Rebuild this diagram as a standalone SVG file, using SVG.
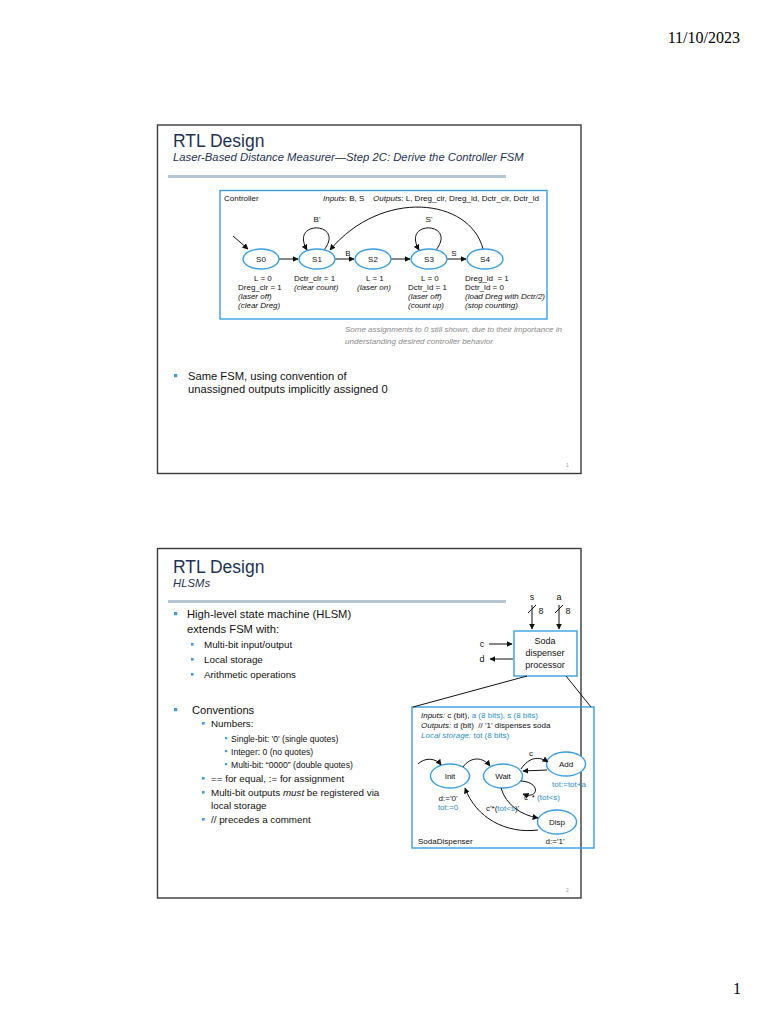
<svg xmlns="http://www.w3.org/2000/svg" width="768" height="1024" viewBox="0 0 768 1024">
<style>
text{font-family:"Liberation Sans",Arial,sans-serif;fill:#111}
.serif{font-family:"Liberation Serif","Times New Roman",serif;font-size:16px;fill:#000}
.slide{fill:#fff;stroke:#3a3a3a;stroke-width:1.4}
.title{font-size:17.5px;fill:#1f3352}
.sub{font-size:11.3px;font-style:italic;fill:#1f3352}
.bar{stroke:#b6c5d3;stroke-width:3}
.frame{fill:none;stroke:#3b9ee0;stroke-width:1.4}
.st{fill:#fff;stroke:#3b9ee0;stroke-width:1.4}
.sl{font-size:8px;text-anchor:middle}
.lab{font-size:8px}
.it{font-style:italic}
.blue{fill:#2f8fc4}
.edge{fill:none;stroke:#111;stroke-width:1}
.bul{fill:#3e9bd6}
.b1{font-size:11.2px}
.b2{font-size:9.8px}
.b3{font-size:8.6px}
.note{font-size:7.6px;font-style:italic;fill:#8a8a8a}
.pn{font-size:5px;fill:#999}
.h{font-size:8px}
.sp{font-size:9px;text-anchor:middle}
</style>
<defs>
<marker id="ah" viewBox="0 0 10 10" refX="9" refY="5" markerWidth="6" markerHeight="6" markerUnits="userSpaceOnUse" orient="auto"><path d="M0,0 L10,5 L0,10 z" fill="#111"/></marker>
</defs>
<rect width="768" height="1024" fill="#fff"/>
<text class="serif" x="740" y="43" text-anchor="end">11/10/2023</text>
<text class="serif" x="733" y="994">1</text>

<!-- Slide 1 -->
<g id="slide1">
<rect class="slide" x="157.5" y="125" width="423.5" height="348.5"/>
<text class="title" x="173" y="147">RTL Design</text>
<text class="sub" x="173" y="161">Laser-Based Distance Measurer—Step 2C: Derive the Controller FSM</text>
<line class="bar" x1="168" y1="176.5" x2="506" y2="176.5"/>
<rect class="frame" x="220" y="190.5" width="327" height="128.5"/>
<text class="lab" x="224" y="201">Controller</text>
<text class="lab" x="323" y="201"><tspan class="it">Inputs</tspan>: B, S</text>
<text class="lab" x="373" y="201" textLength="166" lengthAdjust="spacingAndGlyphs"><tspan class="it">Outputs</tspan>: L, Dreg_clr, Dreg_ld, Dctr_clr, Dctr_ld</text>
<text class="note" x="345" y="332" textLength="217" lengthAdjust="spacingAndGlyphs">Some assignments to 0 still shown, due to their importance in</text>
<text class="note" x="345" y="344" textLength="148" lengthAdjust="spacingAndGlyphs">understanding desired controller behavior</text>
<rect class="bul" x="174" y="374" width="3.2" height="3.2"/>
<text class="b1" x="188" y="380">Same FSM, using convention of</text>
<text class="b1" x="188" y="393">unassigned outputs implicitly assigned 0</text>
<text class="pn" x="566" y="467">1</text>
</g>

<g id="connectors1">
<path class="edge" d="M233,236 L248,249" marker-end="url(#ah)"/>
<path class="edge" d="M279,259 L298,259" marker-end="url(#ah)"/>
<path class="edge" d="M335,259 L354,259" marker-end="url(#ah)"/>
<path class="edge" d="M391,259 L410,259" marker-end="url(#ah)"/>
<path class="edge" d="M447,259 L466,259" marker-end="url(#ah)"/>
<path class="edge" d="M324,250 C346,222 289,219 307,250" marker-end="url(#ah)"/>
<path class="edge" d="M436,250 C458,222 401,219 419,250" marker-end="url(#ah)"/>
<path class="edge" d="M483,249 C470,198 382,188 330,250" marker-end="url(#ah)"/>
<text class="sl" x="317" y="222">B'</text>
<text class="sl" x="348" y="256">B</text>
<text class="sl" x="429" y="222">S'</text>
<text class="sl" x="454" y="256">S</text>
</g>

<g id="S0"><ellipse class="st" cx="261" cy="259" rx="18" ry="10"/><text class="sl" x="261" y="262">S0</text>
<text class="lab" x="254" y="281">L = 0</text><text class="lab" x="238" y="290">Dreg_clr = 1</text><text class="lab it" x="238" y="299">(laser off)</text><text class="lab it" x="238" y="308">(clear Dreg)</text></g>
<g id="S1"><ellipse class="st" cx="317" cy="259" rx="18" ry="10"/><text class="sl" x="317" y="262">S1</text>
<text class="lab" x="294" y="281">Dctr_clr = 1</text><text class="lab it" x="294" y="290">(clear count)</text></g>
<g id="S2"><ellipse class="st" cx="373" cy="259" rx="18" ry="10"/><text class="sl" x="373" y="262">S2</text>
<text class="lab" x="366" y="281">L = 1</text><text class="lab it" x="357" y="290">(laser on)</text></g>
<g id="S3"><ellipse class="st" cx="429" cy="259" rx="18" ry="10"/><text class="sl" x="429" y="262">S3</text>
<text class="lab" x="421" y="281">L = 0</text><text class="lab" x="408" y="290">Dctr_ld = 1</text><text class="lab it" x="408" y="299">(laser off)</text><text class="lab it" x="408" y="308">(count up)</text></g>
<g id="S4"><ellipse class="st" cx="485" cy="259" rx="18" ry="10"/><text class="sl" x="485" y="262">S4</text>
<text class="lab" x="465" y="281" xml:space="preserve">Dreg_ld  = 1</text><text class="lab" x="465" y="290">Dctr_ld = 0</text><text class="lab it" x="465" y="299">(load Dreg with Dctr/2)</text><text class="lab it" x="465" y="308">(stop counting)</text></g>

<!-- Slide 2 -->
<g id="slide2">
<rect class="slide" x="157.5" y="548.5" width="423.5" height="349.5"/>
<text class="title" x="173" y="573">RTL Design</text>
<text class="sub" x="173" y="587">HLSMs</text>
<line class="bar" x1="168" y1="601.5" x2="506" y2="601.5"/>
<rect class="bul" x="174" y="612" width="3.2" height="3.2"/>
<text class="b1" x="187" y="618">High-level state machine (HLSM)</text>
<text class="b1" x="187" y="633">extends FSM with:</text>
<rect class="bul" x="191" y="643" width="2.6" height="2.6"/><text class="b2" x="204" y="648">Multi-bit input/output</text>
<rect class="bul" x="191" y="658" width="2.6" height="2.6"/><text class="b2" x="204" y="663">Local storage</text>
<rect class="bul" x="191" y="673" width="2.6" height="2.6"/><text class="b2" x="204" y="678">Arithmetic operations</text>
<rect class="bul" x="174" y="708" width="3.2" height="3.2"/><text class="b1" x="192" y="714">Conventions</text>
<rect class="bul" x="202" y="722" width="2.6" height="2.6"/><text class="b2" x="211" y="727">Numbers:</text>
<rect class="bul" x="225" y="737" width="2.2" height="2.2"/><text class="b3" x="231" y="742">Single-bit: '0' (single quotes)</text>
<rect class="bul" x="225" y="750" width="2.2" height="2.2"/><text class="b3" x="231" y="755">Integer: 0 (no quotes)</text>
<rect class="bul" x="225" y="763" width="2.2" height="2.2"/><text class="b3" x="231" y="768">Multi-bit: “0000” (double quotes)</text>
<rect class="bul" x="202" y="777" width="2.6" height="2.6"/><text class="b2" x="211" y="782">== for equal, := for assignment</text>
<rect class="bul" x="202" y="791" width="2.6" height="2.6"/><text class="b2" x="211" y="796">Multi-bit outputs <tspan class="it">must</tspan> be registered via</text>
<text class="b2" x="211" y="809">local storage</text>
<rect class="bul" x="202" y="818" width="2.6" height="2.6"/><text class="b2" x="211" y="823">// precedes a comment</text>
<text class="pn" x="566" y="892">2</text>
</g>

<g id="soda_processor">
<rect class="frame" x="514" y="631" width="63" height="45"/>
<text class="sp" x="545" y="643.5">Soda</text>
<text class="sp" x="545" y="655.5">dispenser</text>
<text class="sp" x="545" y="667.5">processor</text>
<text class="sp" x="532" y="600">s</text>
<text class="sp" x="559" y="600">a</text>
<text class="sp" x="541" y="614">8</text>
<text class="sp" x="568" y="614">8</text>
<text class="sp" x="482" y="647">c</text>
<text class="sp" x="482" y="662">d</text>
</g>

<g id="hlsm_box">
<rect class="frame" x="412" y="707" width="182" height="141"/>
<text class="h" x="421" y="718"><tspan class="it">Inputs:</tspan> c (bit), <tspan class="blue">a (8 bits), s (8 bits)</tspan></text>
<text class="h" x="421" y="728" xml:space="preserve"><tspan class="it">Outputs:</tspan> d (bit)  // '1' dispenses soda</text>
<text class="h blue" x="421" y="738"><tspan class="it">Local storage:</tspan> tot (8 bits)</text>
<text class="h" x="418" y="844" font-size="7.5">SodaDispenser</text>
</g>

<g id="Init"><ellipse class="st" cx="450" cy="776" rx="19.5" ry="12"/><text class="h" x="450" y="779" text-anchor="middle">Init</text>
<text class="h" x="448" y="801" text-anchor="middle">d:='0'</text><text class="h blue" x="448" y="810" text-anchor="middle">tot:=0</text></g>
<g id="Wait"><ellipse class="st" cx="503" cy="776" rx="19.5" ry="12"/><text class="h" x="503" y="779" text-anchor="middle">Wait</text></g>
<g id="Add"><ellipse class="st" cx="566" cy="764" rx="19.5" ry="12"/><text class="h" x="566" y="767" text-anchor="middle">Add</text>
<text class="h blue" x="569" y="787" text-anchor="middle">tot:=tot+a</text></g>
<g id="Disp"><ellipse class="st" cx="557" cy="822" rx="19.5" ry="12"/><text class="h" x="557" y="825" text-anchor="middle">Disp</text>
<text class="h" x="555" y="844" text-anchor="middle">d:='1'</text></g>

<g id="connectors2">
<path class="edge" d="M532,605 L532,629" marker-end="url(#ah)"/>
<path class="edge" d="M559,605 L559,629" marker-end="url(#ah)"/>
<path class="edge" d="M528,613 L536,605"/>
<path class="edge" d="M555,613 L563,605"/>
<path class="edge" d="M489,644 L512,644" marker-end="url(#ah)"/>
<path class="edge" d="M513,659 L490,659" marker-end="url(#ah)"/>
<path class="edge" d="M527,676 L413,707" stroke-width="0.7"/>
<path class="edge" d="M566,676 L591,707" stroke-width="0.7"/>
<path class="edge" d="M418,764 C425,757 436,758 441,765" stroke-width="0.8" marker-end="url(#ah)"/>
<path class="edge" d="M463,767 C471,756 483,757 490,766" stroke-width="0.8" marker-end="url(#ah)"/>
<path class="edge" d="M521,769 C529,757 539,756 548,762" stroke-width="0.8" marker-end="url(#ah)"/>
<path class="edge" d="M547,770 L523,771" stroke-width="0.8" marker-end="url(#ah)"/>
<path class="edge" d="M521,781 C541,782 539,800 523,794" stroke-width="0.8" marker-end="url(#ah)"/>
<path class="edge" d="M501,788 C506,805 521,815 538,818" stroke-width="0.8" marker-end="url(#ah)"/>
<path class="edge" d="M538,830 C506,834 476,818 465,788" stroke-width="0.8" marker-end="url(#ah)"/>
<text class="h" x="531" y="756" text-anchor="middle">c</text>
<text class="h" x="524" y="800">c' * <tspan class="blue">(tot&lt;s)</tspan></text>
<text class="h" x="486" y="811">c'*(<tspan class="blue">tot&lt;s</tspan>)'</text>
</g>
</svg>
